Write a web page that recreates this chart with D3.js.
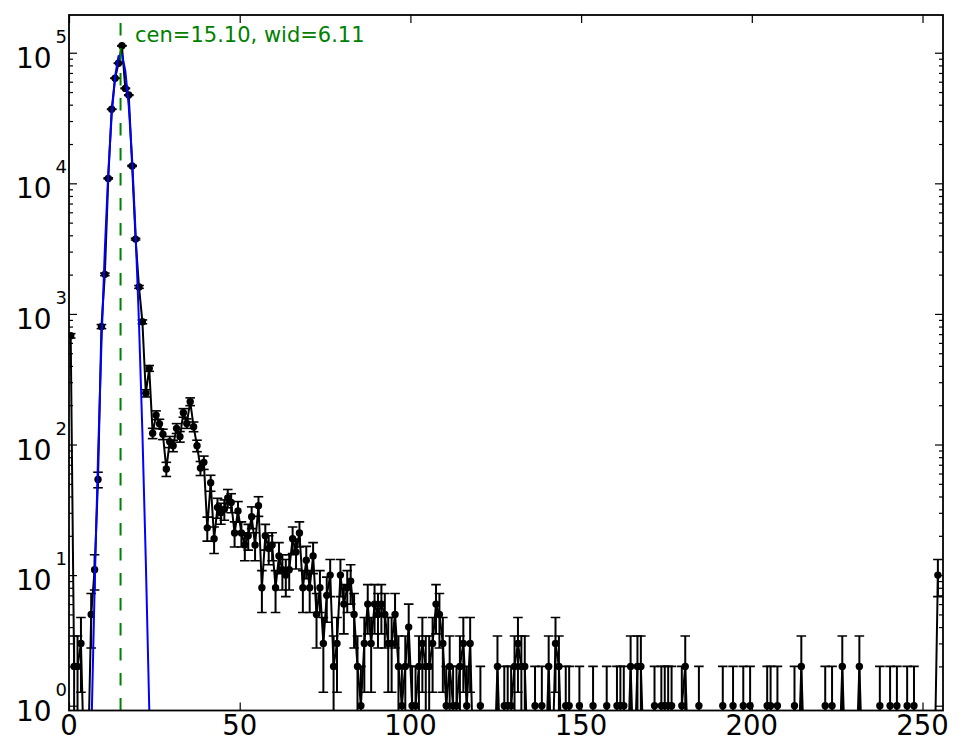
<!DOCTYPE html>
<html>
<head>
<meta charset="utf-8">
<script src="https://cdn.jsdelivr.net/npm/d3@7"></script>
<style>
  body { margin: 0; background: #fff; }
  svg text { font-family: "DejaVu Sans", sans-serif; }
</style>
</head>
<body>
<div id="chart"></div>
<script>
/*
*    ADC spectrum with gaussian peak fit, log y
*/

// counts per bin, bin i is drawn at x = i + 0.5
var counts = [
  680, 2, 2, 3, 0, 0, 5, 11, 54, 800,
  2010, 10900, 36900, 63700, 83000, 113000, 53300, 47400, 13600, 3740,
  1610, 870, 247, 383, 122, 168, 144, 120, 65, 105,
  98, 133, 115, 175, 145, 213, 137, 98, 66, 73,
  23, 51, 19, 33, 30, 32, 39, 36, 21, 31,
  21, 17, 20, 28, 17, 34, 8, 20, 16, 17,
  8, 14, 11, 10, 11, 19, 15, 21, 8, 13,
  8, 14, 5, 8, 3, 7, 10, 2, 3, 10,
  6, 8, 9, 5, 2, 1, 3, 6, 3, 6,
  5, 6, 5, 3, 3, 5, 2, 1, 2, 4,
  1, 1, 2, 3, 2, 2, 3, 6, 5, 3,
  1, 2, 1, 1, 2, 3, 1, 3, 0, 0,
  1, 0, 0, 0, 0, 2, 0, 1, 1, 1,
  2, 3, 2, 2, 0, 0, 1, 0, 1, 0,
  2, 0, 3, 2, 0, 1, 1, 0, 0, 1,
  0, 0, 0, 1, 0, 0, 0, 1, 0, 0,
  1, 1, 1, 0, 2, 0, 2, 2, 0, 0,
  0, 1, 0, 1, 1, 1, 1, 0, 0, 1,
  2, 0, 0, 0, 1, 0, 0, 0, 0, 0,
  0, 1, 0, 0, 1, 0, 0, 1, 0, 1,
  0, 0, 0, 0, 1, 1, 0, 1, 0, 0,
  0, 0, 1, 0, 2, 0, 0, 0, 0, 0,
  0, 1, 0, 1, 0, 0, 2, 0, 0, 0,
  0, 2, 0, 0, 0, 0, 0, 1, 0, 0,
  1, 0, 1, 0, 0, 1, 0, 1, 0, 0,
  0, 0, 0, 0, 10
];

// gaussian fit curve, sampled at the bin centres around the peak
var fitX = [5.5, 6.5, 7.5, 8.5, 9.5, 10.5, 11.5, 12.5, 13.5, 14.5,
            15.5, 16.5, 17.5, 18.5, 19.5, 20.5, 21.5, 22.5, 23.5, 24.5];
var fitY = [0.028, 0.55, 7.8, 80, 590, 3130, 12000, 33100, 65800, 94300,
            97400, 72600, 39000, 15100, 4200, 850, 123, 12.8, 0.97, 0.05];
var fitCen = 15.10;
var fitWid = 6.11;

var xTicks = [0, 50, 100, 150, 200, 250];
var yExponents = [0, 1, 2, 3, 4, 5];

// empty bins are drawn at this level (below the axis)
var zeroFloor = 0.3;

HistFit = function(_parentElement){
    this.parentElement = _parentElement;
    this.initVis();
};

HistFit.prototype.initVis = function(){
    var vis = this;

    vis.margin = { left: 69, right: 22, top: 15, bottom: 45.5 };
    vis.width = 965 - vis.margin.left - vis.margin.right;
    vis.height = 756 - vis.margin.top - vis.margin.bottom;

    vis.data = counts.map(function(c, i){ return { x: i + 0.5, v: c }; });
    vis.fit = fitX.map(function(d, i){ return { x: d, v: fitY[i] }; });

    vis.x = d3.scaleLinear().domain([0, 256]).range([0, vis.width]);
    vis.y = d3.scaleLog().domain([0.919, 1.945e5]).range([vis.height, 0]);

    vis.svg = d3.select(vis.parentElement)
        .append("svg")
        .attr("width", 965)
        .attr("height", 756)
        .append("g")
        .attr("transform", "translate(" + vis.margin.left + "," + vis.margin.top + ")");

    vis.svg.append("clipPath")
        .attr("id", "plot-clip")
        .append("rect")
        .attr("width", vis.width)
        .attr("height", vis.height);

    vis.plot = vis.svg.append("g").attr("clip-path", "url(#plot-clip)");

    function yv(v){ return vis.y(v > 0 ? v : zeroFloor); }

    // data line
    vis.line = d3.line()
        .x(function(d){ return vis.x(d.x); })
        .y(function(d){ return yv(d.v); });

    vis.plot.append("path")
        .datum(vis.data)
        .attr("d", vis.line)
        .style("fill", "none")
        .style("stroke", "#000")
        .style("stroke-width", 2);

    // error bars, sqrt(N)
    var filled = vis.data.filter(function(d){ return d.v > 0; });
    var capW = 4.8;

    var bars = vis.plot.append("g").selectAll("g")
        .data(filled)
        .enter().append("g");

    bars.append("line")
        .attr("x1", function(d){ return vis.x(d.x); })
        .attr("x2", function(d){ return vis.x(d.x); })
        .attr("y1", function(d){ return yv(d.v + Math.sqrt(d.v)); })
        .attr("y2", function(d){ return yv(d.v - Math.sqrt(d.v)); })
        .style("stroke", "#000")
        .style("stroke-width", 2);

    bars.append("line")
        .attr("x1", function(d){ return vis.x(d.x) - capW; })
        .attr("x2", function(d){ return vis.x(d.x) + capW; })
        .attr("y1", function(d){ return yv(d.v + Math.sqrt(d.v)); })
        .attr("y2", function(d){ return yv(d.v + Math.sqrt(d.v)); })
        .style("stroke", "#000")
        .style("stroke-width", 1.6);

    bars.append("line")
        .attr("x1", function(d){ return vis.x(d.x) - capW; })
        .attr("x2", function(d){ return vis.x(d.x) + capW; })
        .attr("y1", function(d){ return yv(d.v - Math.sqrt(d.v)); })
        .attr("y2", function(d){ return yv(d.v - Math.sqrt(d.v)); })
        .style("stroke", "#000")
        .style("stroke-width", 1.6);

    bars.append("circle")
        .attr("cx", function(d){ return vis.x(d.x); })
        .attr("cy", function(d){ return vis.y(d.v); })
        .attr("r", 3.7)
        .style("fill", "#000");

    // fit
    vis.fitLine = d3.line()
        .x(function(d){ return vis.x(d.x); })
        .y(function(d){ return vis.y(d.v); });

    vis.plot.append("path")
        .datum(vis.fit)
        .attr("d", vis.fitLine)
        .style("fill", "none")
        .style("stroke", "#0000ff")
        .style("stroke-width", 2);

    vis.plot.append("line")
        .attr("x1", vis.x(fitCen))
        .attr("x2", vis.x(fitCen))
        .attr("y1", vis.height)
        .attr("y2", 0)
        .style("stroke", "#008000")
        .style("stroke-width", 2)
        .style("stroke-dasharray", "12.5,12.5");

    vis.svg.append("text")
        .attr("x", vis.x(fitCen + 4.25))
        .attr("y", vis.y(1.2e5))
        .style("font-size", "21px")
        .style("fill", "#008000")
        .text("cen=" + fitCen.toFixed(2) + ", wid=" + fitWid.toFixed(2));

    // ticks, all pointing inward
    var minor = [];
    yExponents.forEach(function(e){
        for (var m = 2; m <= 9; m++) {
            var v = m * Math.pow(10, e);
            if (v > vis.y.domain()[0] && v < vis.y.domain()[1]) minor.push(v);
        }
    });
    var major = yExponents.map(function(e){ return Math.pow(10, e); });

    function tickGroup(axis, transform){
        var g = vis.svg.append("g").attr("transform", transform).call(axis);
        g.select(".domain").remove();
        g.selectAll("line").style("stroke", "#000").style("stroke-width", 1.2);
        return g;
    }

    tickGroup(d3.axisBottom(vis.x).tickValues(xTicks).tickSize(-8).tickFormat(""),
        "translate(0," + vis.height + ")");
    tickGroup(d3.axisTop(vis.x).tickValues(xTicks).tickSize(-8).tickFormat(""),
        "translate(0,0)");
    tickGroup(d3.axisLeft(vis.y).tickValues(major).tickSize(-8).tickFormat(""),
        "translate(0,0)");
    tickGroup(d3.axisLeft(vis.y).tickValues(minor).tickSize(-4).tickFormat(""),
        "translate(0,0)");
    tickGroup(d3.axisRight(vis.y).tickValues(major).tickSize(-8).tickFormat(""),
        "translate(" + vis.width + ",0)");
    tickGroup(d3.axisRight(vis.y).tickValues(minor).tickSize(-4).tickFormat(""),
        "translate(" + vis.width + ",0)");

    // frame
    vis.svg.append("rect")
        .attr("width", vis.width)
        .attr("height", vis.height)
        .style("fill", "none")
        .style("stroke", "#000")
        .style("stroke-width", 1.8);

    // tick labels
    vis.svg.append("g").selectAll("text")
        .data(xTicks)
        .enter().append("text")
        .attr("x", function(d){ return vis.x(d); })
        .attr("y", vis.height + 24.5)
        .attr("text-anchor", "middle")
        .style("font-size", "27.5px")
        .text(function(d){ return d; });

    var yl = vis.svg.append("g").selectAll("text")
        .data(yExponents)
        .enter().append("text")
        .attr("x", -2)
        .attr("y", function(d){ return vis.y(Math.pow(10, d)) + 15; })
        .attr("text-anchor", "end");

    yl.append("tspan")
        .style("font-size", "28px")
        .text("10");

    yl.append("tspan")
        .attr("dx", 4)
        .attr("dy", -25)
        .style("font-size", "18px")
        .text(function(d){ return d; });
};

new HistFit("#chart");
</script>
</body>
</html>
